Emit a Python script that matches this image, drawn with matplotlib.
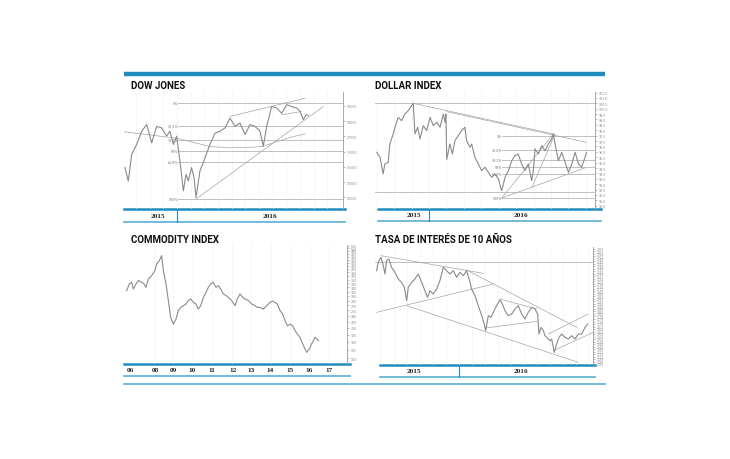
import matplotlib

matplotlib.use("Agg")
import matplotlib.pyplot as plt
import numpy as np

W, H = 730, 460

# ---- data ----
dow_t = [2015.683, 2015.703, 2015.724, 2015.754, 2015.785, 2015.815, 2015.846, 2015.876, 2015.907,
         2015.937, 2015.957, 2015.978, 2015.998, 2016.018, 2016.039, 2016.055, 2016.069, 2016.089,
         2016.104, 2016.116, 2016.140, 2016.171, 2016.201, 2016.232, 2016.262, 2016.293, 2016.323,
         2016.354, 2016.384, 2016.415, 2016.445, 2016.476, 2016.506, 2016.526, 2016.547, 2016.577,
         2016.608, 2016.638, 2016.669, 2016.699, 2016.730, 2016.750, 2016.770, 2016.787, 2016.801]
dow_v = [16480, 16040, 16910, 17240, 17670, 17890, 17290, 17830, 17780, 17510, 17670, 17240, 17510,
         16690, 15720, 16260, 16040, 16480, 16150, 15500, 16370, 16800, 17240, 17610, 17670, 17780,
         18100, 17830, 17940, 17560, 17890, 17830, 17670, 17180, 17830, 18480, 18430, 18260, 18540,
         18480, 18430, 18320, 18050, 18210, 18190]
dow_ma_t = [2015.652, 2015.856, 2016.008, 2016.201, 2016.323, 2016.465, 2016.526, 2016.628, 2016.709, 2016.781]
dow_ma_v = [17668, 17538, 17430, 17170, 17127, 17148, 17181, 17365, 17495, 17582]
dow_trends = [((2016.116, 15448), (2016.892, 18481)),
              ((2016.323, 18156), (2016.781, 18752)),
              ((2016.638, 18210), (2016.760, 18318))]
dow_fib_start = 2016.006
dow_fib = [18600, 17857, 17397, 17025, 16653, 15450]

dxy_t = [2015.750, 2015.766, 2015.781, 2015.789, 2015.805, 2015.813, 2015.829, 2015.845, 2015.853,
         2015.869, 2015.885, 2015.901, 2015.917, 2015.925, 2015.933, 2015.946, 2015.957, 2015.973,
         2015.989, 2016.005, 2016.021, 2016.037, 2016.053, 2016.069, 2016.077, 2016.081, 2016.085,
         2016.100, 2016.112, 2016.124, 2016.140, 2016.156, 2016.172, 2016.180, 2016.196, 2016.204,
         2016.220, 2016.236, 2016.252, 2016.268, 2016.284, 2016.300, 2016.316, 2016.332, 2016.348,
         2016.364, 2016.380, 2016.396, 2016.411, 2016.427, 2016.443, 2016.459, 2016.475, 2016.491,
         2016.499, 2016.507, 2016.523, 2016.539, 2016.555, 2016.571, 2016.587, 2016.595, 2016.603,
         2016.619, 2016.635, 2016.651, 2016.667, 2016.683, 2016.699, 2016.715, 2016.730, 2016.746,
         2016.754]
dxy_v = [95.96, 95.49, 93.95, 94.88, 95.03, 96.73, 97.66, 98.74, 99.20, 98.89, 99.51, 99.82, 100.28,
         100.50, 97.66, 98.28, 97.19, 98.43, 97.97, 99.20, 98.43, 98.74, 98.28, 99.51, 98.74, 99.51,
         95.30, 96.73, 95.80, 97.04, 97.50, 97.97, 98.28, 97.04, 96.42, 96.73, 95.49, 94.88, 94.26,
         94.57, 94.10, 93.64, 93.95, 93.48, 92.40, 93.64, 94.26, 95.18, 95.65, 95.80, 94.88, 94.26,
         94.88, 93.33, 94.26, 96.27, 95.80, 96.58, 96.11, 96.73, 97.19, 97.66, 96.73, 95.18, 95.96,
         95.03, 94.10, 94.88, 95.96, 94.88, 94.57, 95.49, 95.96]
dxy_trends = [((2015.925, 100.50), (2016.595, 97.66)),
              ((2016.085, 99.73), (2016.754, 96.88)),
              ((2016.348, 91.72), (2016.595, 97.66)),
              ((2016.491, 92.65), (2016.603, 97.66)),
              ((2016.348, 91.72), (2016.746, 94.51))]
dxy_hlines = [100.50, 92.31]
dxy_fib_start = 2016.349
dxy_fib = [97.50, 96.14, 95.29, 94.61, 93.93, 91.72]

crb_t = [2006.624, 2006.761, 2006.880, 2006.966, 2007.103, 2007.222, 2007.393, 2007.513, 2007.615,
         2007.735, 2007.906, 2008.077, 2008.162, 2008.299, 2008.419, 2008.504, 2008.641, 2008.761,
         2008.880, 2009.017, 2009.154, 2009.274, 2009.393, 2009.530, 2009.667, 2009.786, 2009.906,
         2010.043, 2010.179, 2010.299, 2010.419, 2010.556, 2010.692, 2010.812, 2010.932, 2011.068,
         2011.205, 2011.325, 2011.444, 2011.581, 2011.718, 2011.838, 2012.009, 2012.179, 2012.299,
         2012.436, 2012.573, 2012.692, 2012.863, 2013.034, 2013.205, 2013.325, 2013.462, 2013.632,
         2013.803, 2013.974, 2014.111, 2014.231, 2014.350, 2014.487, 2014.624, 2014.744, 2014.863,
         2015.000, 2015.137, 2015.256, 2015.376, 2015.513, 2015.650, 2015.769, 2015.855, 2015.991,
         2016.111, 2016.197, 2016.282, 2016.368, 2016.453]
crb_v = [318, 343, 349, 324, 343, 356, 349, 343, 330, 362, 376, 398, 428, 444, 470, 398, 343, 285,
         236, 219, 232, 255, 264, 269, 274, 285, 290, 279, 274, 259, 269, 295, 312, 330, 343, 349,
         330, 336, 324, 307, 301, 295, 285, 269, 290, 307, 295, 290, 285, 274, 269, 264, 264, 259,
         269, 279, 283, 279, 274, 255, 245, 228, 215, 219, 215, 204, 196, 189, 176, 166, 160, 166,
         176, 182, 189, 186, 182]
crb_labels = ["06", "08", "09", "10", "11", "12", "13", "14", "15", "16", "17"]
crb_label_x = [2006.8, 2008.1, 2009.0, 2010.0, 2011.0, 2012.1, 2013.0, 2014.0, 2015.0, 2016.0, 2017.0]

tsy_t = [2015.472, 2015.483, 2015.500, 2015.515, 2015.526, 2015.536, 2015.551, 2015.568, 2015.590,
         2015.611, 2015.632, 2015.650, 2015.665, 2015.675, 2015.697, 2015.718, 2015.739, 2015.761,
         2015.782, 2015.799, 2015.814, 2015.835, 2015.857, 2015.878, 2015.900, 2015.921, 2015.942,
         2015.964, 2015.985, 2016.006, 2016.028, 2016.049, 2016.071, 2016.081, 2016.103, 2016.120,
         2016.135, 2016.156, 2016.171, 2016.188, 2016.205, 2016.220, 2016.241, 2016.263, 2016.278,
         2016.295, 2016.316, 2016.338, 2016.359, 2016.380, 2016.402, 2016.423, 2016.444, 2016.466,
         2016.487, 2016.504, 2016.513, 2016.526, 2016.541, 2016.551, 2016.583, 2016.594, 2016.611,
         2016.626, 2016.641, 2016.658, 2016.679, 2016.701, 2016.722, 2016.744, 2016.765, 2016.786,
         2016.808, 2016.825]
tsy_v = [2.34, 2.44, 2.50, 2.40, 2.30, 2.46, 2.48, 2.38, 2.32, 2.24, 2.20, 2.14, 1.98, 2.14, 2.20,
         2.24, 2.30, 2.20, 2.10, 2.02, 2.10, 2.06, 2.12, 2.22, 2.38, 2.34, 2.30, 2.34, 2.26, 2.32,
         2.28, 2.34, 2.20, 2.12, 2.04, 1.94, 1.86, 1.74, 1.62, 1.80, 1.78, 1.84, 1.92, 1.99, 1.94,
         1.86, 1.80, 1.82, 1.88, 1.92, 1.82, 1.76, 1.84, 1.90, 1.88, 1.82, 1.58, 1.66, 1.62, 1.56,
         1.50, 1.52, 1.36, 1.46, 1.54, 1.58, 1.54, 1.52, 1.56, 1.52, 1.58, 1.58, 1.66, 1.70]
tsy_trends = [((2015.500, 2.52), (2016.156, 2.308)),
              ((2016.049, 2.348), (2016.754, 1.66)),
              ((2015.472, 1.84), (2016.220, 2.18)),
              ((2015.665, 1.92), (2016.765, 1.24)),
              ((2016.171, 1.652), (2016.498, 1.732)),
              ((2016.263, 2.00), (2016.498, 1.88)),
              ((2016.573, 1.58), (2016.829, 1.82)),
              ((2016.605, 1.38), (2016.861, 1.60))]
tsy_hline = 2.44

fib_names = ["0%", "23.6%", "38.2%", "50%", "61.8%", "100%"]

BLUE = "#1f8cc0"
LBLUE = "#5aaed3"
GREY = "#8a8a8a"
TREND = "#a5a5a5"
TITLE_FONT = ["Roboto", "DejaVu Sans"]
YEAR_FONT = ["Liberation Serif", "DejaVu Serif"]

fig = plt.figure(figsize=(W / 100, H / 100), dpi=100)
fig.patch.set_facecolor("white")

deco = fig.add_axes([0, 0, 1, 1])
deco.set_xlim(0, W)
deco.set_ylim(H, 0)
deco.axis("off")


def panel(l, t, r, b):
    ax = fig.add_axes([l / W, 1 - b / H, (r - l) / W, (b - t) / H])
    ax.patch.set_alpha(0)
    for s in ["top", "left", "bottom"]:
        ax.spines[s].set_visible(False)
    ax.spines["right"].set_color("#9a9a9a")
    ax.spines["right"].set_linewidth(0.6)
    ax.yaxis.tick_right()
    ax.tick_params(axis="y", labelsize=2.3, length=1.5, width=0.4, colors="#8a8a8a", pad=1)
    ax.set_xticks([])
    return ax


def fib(ax, x0, x1, levels):
    for lev, name in zip(levels, fib_names):
        ax.plot([x0, x1], [lev, lev], color="#b5b5b5", lw=0.6)
        ax.text(x0, lev, name, fontsize=2.3, color="#777777", ha="right", va="center")


def trends(ax, segs):
    for (x0, y0), (x1, y1) in segs:
        ax.plot([x0, x1], [y0, y1], color=TREND, lw=0.5)


# ---- page decoration ----
deco.plot([124, 605], [75, 75], color=BLUE, lw=3.2, solid_capstyle="butt")
deco.plot([124, 605], [384.5, 384.5], color=LBLUE, lw=1.2)
for x0, x1, ya, yb, div, labs in [
    (124, 345, 210, 223, 177, [(158, "2015"), (270, "2016")]),
    (378, 601, 210, 222, 429, [(414, "2015"), (521, "2016")]),
    (380, 595, 366, 378, 459, [(414, "2015"), (521, "2016")]),
]:
    deco.plot([x0, x1], [ya, ya], color=BLUE, lw=1.8)
    deco.plot([x0, x1], [yb, yb], color=LBLUE, lw=1.2)
    deco.plot([div, div], [ya, yb], color=BLUE, lw=0.8)
    for x, s in labs:
        deco.text(x, (ya + yb) / 2, s, fontsize=5.2, fontweight="bold", family=YEAR_FONT,
                  ha="center", va="center", color="#222222")
deco.plot([124, 350], [365, 365], color=BLUE, lw=1.8)
deco.plot([124, 350], [377, 377], color=LBLUE, lw=1.2)

for x, y, s in [(131, 86, "DOW JONES"), (375, 86, "DOLLAR INDEX"),
                (131, 240, "COMMODITY INDEX"), (375, 240, "TASA DE INTERÉS DE 10 AÑOS")]:
    deco.text(x, y, s, fontsize=7.0, fontweight="bold", family=TITLE_FONT, ha="left",
              va="center", color="#111111")

# ---- Dow Jones ----
ax = panel(124, 93, 343, 210)
ax.set_xlim(2015.677, 2017.012)
ax.set_ylim(15122, 18957)
for g in np.arange(2015.75, 2017.0, 1 / 12):
    ax.axvline(g, color="#f0f0f0", lw=0.4, zorder=0)
fib(ax, dow_fib_start, 2017.012, dow_fib)
trends(ax, dow_trends)
ax.plot(dow_ma_t, dow_ma_v, color=TREND, lw=0.5)
ax.plot(dow_t, dow_v, color=GREY, lw=0.8)
ax.set_yticks(np.arange(15500, 18600, 500))
ax.set_yticklabels([f"{v:d}" for v in range(15500, 18600, 500)])

# ---- Dollar index ----
ax = panel(375, 93, 595, 210)
ax.set_xlim(2015.742, 2016.794)
ax.set_ylim(90.70, 101.55)
for g in np.arange(2015.75, 2016.8, 1 / 12):
    ax.axvline(g, color="#f0f0f0", lw=0.4, zorder=0)
for h in dxy_hlines:
    ax.axhline(h, color="#b5b5b5", lw=0.6)
fib(ax, dxy_fib_start, 2016.794, dxy_fib)
trends(ax, dxy_trends)
ax.plot(dxy_t, dxy_v, color=GREY, lw=0.8)
ticks = np.arange(91.0, 101.6, 0.5)
ax.set_yticks(ticks)
ax.set_yticklabels([f"{v:.1f}" for v in ticks])

# ---- Commodity index ----
ax = panel(124, 246, 347, 365)
ax.set_yscale("log")
ax.set_xlim(2006.487, 2017.923)
ax.set_ylim(140.5, 529)
for g in range(2008, 2018):
    ax.axvline(g, color="#eeeeee", lw=0.4, zorder=0)
ax.plot(crb_t, crb_v, color=GREY, lw=0.8)
ticks = np.arange(150, 530, 15)
ax.set_yticks(ticks)
ax.set_yticklabels([str(v) for v in ticks])
ax.minorticks_off()
for x, s in zip(crb_label_x, crb_labels):
    ax.text(x, -0.05, s, transform=ax.get_xaxis_transform(), fontsize=5.2, fontweight="bold",
            family=YEAR_FONT, ha="center", va="center", color="#222222")

# ---- 10-year rate ----
ax = panel(375, 248, 593, 366)
ax.set_xlim(2015.462, 2016.859)
ax.set_ylim(1.208, 2.624)
for g in np.arange(2015.5, 2016.86, 1 / 12):
    ax.axvline(g, color="#f0f0f0", lw=0.4, zorder=0)
ax.axhline(tsy_hline, color="#b5b5b5", lw=0.6)
trends(ax, tsy_trends)
ax.plot(tsy_t, tsy_v, color=GREY, lw=0.8)
ticks = np.arange(1.22, 2.62, 0.03)
ax.set_yticks(ticks)
ax.set_yticklabels([f"{v:.2f}" for v in ticks])

fig.savefig("out.png", dpi=100)
plt.close(fig)
